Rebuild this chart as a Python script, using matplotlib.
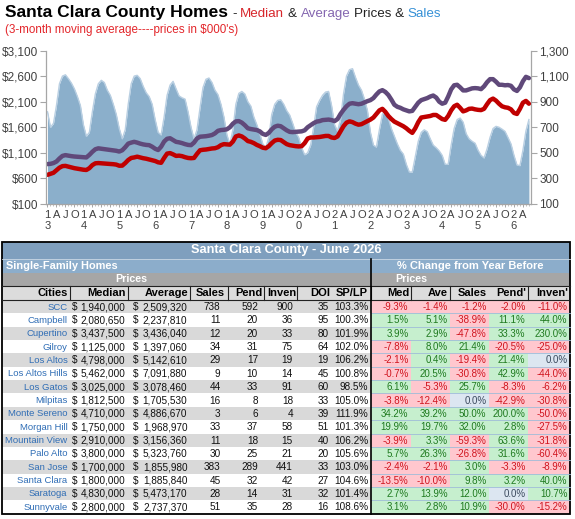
import numpy as np
import matplotlib
matplotlib.use("Agg")
import matplotlib.pyplot as plt
from matplotlib.patches import Rectangle
from matplotlib.ticker import FuncFormatter, MultipleLocator

plt.rcParams['font.family'] = ['Liberation Sans', 'DejaVu Sans']

# ---- chart data: 3-month moving averages, Jan 2013 .. Jun 2026 ----
years = list(range(2013, 2027))

median_k = [
    670, 690, 710, 760, 810, 840, 845, 830, 815, 800, 790, 780,
    770, 765, 800, 860, 895, 900, 895, 890, 885, 882, 878, 870,
    848, 850, 900, 960, 1000, 1010, 1025, 1010, 995, 985, 970, 955,
    940, 915, 905, 1000, 1085, 1095, 1070, 1040, 1045, 1035, 1015, 1000,
    995, 1000, 1080, 1150, 1160, 1165, 1175, 1185, 1190, 1210, 1250, 1270,
    1265, 1260, 1320, 1420, 1440, 1420, 1380, 1330, 1315, 1290, 1255, 1230,
    1200, 1190, 1230, 1290, 1340, 1355, 1350, 1310, 1270, 1250, 1240, 1230,
    1225, 1230, 1290, 1380, 1400, 1400, 1405, 1410, 1420, 1430, 1430, 1400,
    1390, 1420, 1520, 1620, 1690, 1715, 1700, 1670, 1650, 1660, 1690, 1720,
    1750, 1790, 1860, 1930, 1960, 1900, 1820, 1760, 1710, 1680, 1650, 1620,
    1580, 1530, 1490, 1580, 1700, 1790, 1800, 1810, 1820, 1840, 1840, 1800,
    1760, 1745, 1820, 1930, 2010, 2040, 1980, 1910, 1930, 1960, 1965, 1950,
    1940, 1935, 1960, 2050, 2130, 2160, 2120, 2060, 2010, 1990, 1980, 1950,
    1880, 1860, 1960, 2080, 2115, 2060]

average_k = [
    880, 885, 900, 930, 990, 1040, 1055, 1045, 1035, 1028, 1024, 1020,
    1015, 1010, 1060, 1120, 1170, 1188, 1180, 1170, 1165, 1155, 1150, 1140,
    1125, 1150, 1210, 1280, 1300, 1315, 1300, 1280, 1265, 1255, 1250, 1220,
    1180, 1155, 1220, 1320, 1375, 1385, 1350, 1315, 1305, 1290, 1270, 1255,
    1250, 1300, 1380, 1415, 1420, 1425, 1435, 1448, 1480, 1530, 1545, 1550,
    1560, 1600, 1670, 1715, 1720, 1690, 1640, 1580, 1565, 1555, 1545, 1520,
    1470, 1450, 1490, 1560, 1610, 1630, 1620, 1580, 1540, 1510, 1505, 1510,
    1515, 1520, 1540, 1600, 1640, 1680, 1710, 1720, 1740, 1745, 1750, 1740,
    1720, 1760, 1860, 1940, 2010, 2060, 2070, 2060, 2050, 2060, 2085, 2110,
    2130, 2170, 2240, 2300, 2325, 2290, 2230, 2140, 2040, 2000, 1980, 1950,
    1930, 1910, 1920, 2000, 2080, 2130, 2150, 2170, 2200, 2220, 2180, 2100,
    2060, 2080, 2200, 2340, 2420, 2430, 2380, 2320, 2320, 2340, 2360, 2365,
    2360, 2345, 2400, 2480, 2540, 2540, 2490, 2430, 2430, 2420, 2425, 2410,
    2340, 2310, 2380, 2500, 2585, 2560]

sales_3m = [
    821, 700, 730, 870, 1040, 1100, 1110, 1080, 1045, 1000, 940, 870,
    720, 630, 660, 820, 960, 1040, 1067, 1050, 990, 950, 880, 800,
    690, 610, 680, 880, 1040, 1100, 1106, 1080, 1020, 970, 940, 880,
    760, 660, 640, 780, 950, 1030, 1059, 1000, 945, 930, 920, 820,
    700, 610, 680, 850, 1010, 1075, 1085, 1050, 990, 955, 880, 780,
    640, 570, 680, 880, 965, 980, 960, 900, 865, 780, 720, 650,
    570, 540, 620, 800, 880, 910, 915, 880, 830, 795, 730, 660,
    620, 540, 485, 500, 560, 700, 860, 910, 950, 975, 980, 870,
    720, 670, 760, 960, 1100, 1150, 1158, 1090, 1030, 990, 920, 830,
    660, 560, 545, 680, 800, 835, 770, 690, 630, 570, 520, 490,
    410, 350, 350, 470, 590, 660, 680, 665, 610, 560, 540, 515,
    480, 410, 410, 560, 690, 760, 772, 740, 650, 610, 590, 575,
    520, 480, 460, 530, 620, 690, 707, 700, 685, 668, 620, 570,
    480, 405, 400, 520, 670, 760]

# ---- table data ----
cities = ["SCC", "Campbell", "Cupertino", "Gilroy", "Los Altos", "Los Altos Hills",
          "Los Gatos", "Milpitas", "Monte Sereno", "Morgan Hill", "Mountain View",
          "Palo Alto", "San Jose", "Santa Clara", "Saratoga", "Sunnyvale"]
median_price = [1940000, 2080650, 3437500, 1125000, 4798000, 5462000, 3025000, 1812500,
                4710000, 1750000, 2910000, 3800000, 1700000, 1800000, 4830000, 2800000]
average_price = [2509320, 2237810, 3436040, 1397060, 5142610, 7091880, 3078460, 1705530,
                 4886670, 1968970, 3156360, 5323760, 1855980, 1885840, 5473170, 2737370]
sales_ct = [738, 11, 12, 34, 29, 9, 44, 16, 3, 33, 11, 30, 383, 45, 28, 51]
pend_ct = [592, 20, 20, 31, 17, 10, 33, 8, 6, 37, 18, 25, 289, 32, 14, 35]
inven_ct = [900, 36, 33, 75, 19, 14, 91, 18, 4, 58, 15, 21, 441, 42, 31, 28]
doi = [35, 95, 80, 64, 19, 45, 60, 33, 39, 51, 40, 20, 33, 27, 32, 16]
sp_lp = [103.3, 100.3, 101.9, 102.0, 106.2, 100.8, 98.5, 105.0, 111.9, 101.3,
         106.2, 105.6, 103.0, 104.6, 101.4, 108.6]
chg_med = [-9.3, 1.5, 3.9, -7.8, -2.1, -0.7, 6.1, -3.8, 34.2, 19.9, -3.9, 5.7, -2.4, -13.5, 2.7, 3.1]
chg_ave = [-1.4, 5.1, 2.9, 8.0, 0.4, 20.5, -5.3, -12.4, 39.2, 19.7, 3.3, 26.3, -2.1, -10.0, 13.9, 2.8]
chg_sales = [-1.2, -38.9, -47.8, 21.4, -19.4, -30.8, 25.7, 0.0, 50.0, 32.0, -59.3, -26.8, 3.0, 9.8, 12.0, 10.9]
chg_pend = [-2.0, 11.1, 33.3, -20.5, 21.4, 42.9, -8.3, -42.9, 200.0, 2.8, 63.6, 31.6, -3.3, 3.2, 0.0, -30.0]
chg_inven = [-11.0, 44.0, 230.0, -25.0, 0.0, -44.0, -6.2, -30.8, -50.0, -27.5, -31.8, -60.4, -8.9, 40.0, 10.7, -15.2]

left_headers = ["Cities", "Median", "Average", "Sales", "Pend", "Inven", "DOI", "SP/LP"]
right_headers = ["Med", "Ave", "Sales", "Pend'", "Inven'"]

# ---------------------------------------------------------------
W, H = 575, 519
fig = plt.figure(figsize=(W / 100, H / 100), dpi=100)
bg = fig.add_axes([0, 0, 1, 1])
bg.set_xlim(0, W)
bg.set_ylim(H, 0)
bg.axis('off')
renderer = fig.canvas.get_renderer()


def text_w(s, **kw):
    t = bg.text(0, 0, s, **kw)
    w = t.get_window_extent(renderer=renderer).width
    t.remove()
    return w


def colored_line(x0, y, parts, **kw):
    # place coloured pieces one after another on a baseline
    bar = text_w("|", **kw)
    prefix = ""
    for s, c in parts:
        lead = s[:len(s) - len(s.lstrip())]
        off = text_w(prefix + lead + "|", **kw) - bar if (prefix + lead) else 0
        if s.strip():
            bg.text(x0 + off, y, s.strip(), color=c, va='baseline', ha='left', **kw)
        prefix += s


# title
bg.text(5, 17, "Santa Clara County Homes", fontsize=12.5, fontweight='bold',
        color='black', va='baseline', ha='left')
tw = text_w("Santa Clara County Homes", fontsize=12.5, fontweight='bold')
colored_line(5 + tw + 4, 17,
             [("- ", "#222222"), ("Median", "#D7262B"), (" & ", "#222222"),
              ("Average", "#8466B0"), (" Prices & ", "#222222"), ("Sales", "#3590D6")],
             fontsize=9.6)
bg.text(5, 33.5, "(3-month moving average----prices in $000's)", fontsize=8.4,
        color='#E3262B', va='baseline', ha='left')

# ---- chart ----
rect = [46 / W, 1 - 204 / H, 485 / W, 153.5 / H]
ax = fig.add_axes(rect)
ax2 = ax.twinx()
ax.set_zorder(3)
ax2.set_zorder(2)
ax.patch.set_visible(False)

m = np.arange(len(sales_3m))
ax2.fill_between(m, 100, sales_3m, color='#8BAFCB', lw=0)
ax2.plot(m, sales_3m, color='#B9CFE2', lw=1.0)
ax.plot(m, average_k, color='#60497A', lw=3.2, solid_capstyle='round')
ax.plot(m, median_k, color='#C00000', lw=3.2, solid_capstyle='round')

ax.set_xlim(-0.5, 161.7)
ax.set_ylim(100, 3100)
ax2.set_ylim(100, 1300)
ax.set_yticks(np.arange(100, 3101, 500))
ax2.set_yticks(np.arange(100, 1301, 200))
ax.yaxis.set_major_formatter(FuncFormatter(lambda v, p: f"${v:,.0f}"))
ax2.yaxis.set_major_formatter(FuncFormatter(lambda v, p: f"{v:,.0f}"))

qticks = list(range(0, len(m), 3))
qlabels = []
for t in qticks:
    mo = t % 12
    if mo == 0:
        yy = str(years[t // 12])[2:]
        qlabels.append(yy[0] + "\n" + yy[1])
    else:
        qlabels.append({3: "A", 6: "J", 9: "O"}[mo])
ax.set_xticks(qticks)
ax.set_xticklabels(qlabels, linespacing=1.15)
ax.xaxis.set_minor_locator(MultipleLocator(1))

axis_grey = '#A6A6A6'
for a in (ax, ax2):
    for s in a.spines.values():
        s.set_visible(False)
ax.spines['left'].set_visible(True)
ax.spines['bottom'].set_visible(True)
ax2.spines['right'].set_visible(True)
for s in (ax.spines['left'], ax.spines['bottom'], ax2.spines['right']):
    s.set_color(axis_grey)
    s.set_linewidth(0.9)

ax.tick_params(axis='y', length=4, width=0.8, color=axis_grey, labelsize=8.5,
               labelcolor='#404040', pad=1.5)
ax2.tick_params(axis='y', length=4, width=0.8, color=axis_grey, labelsize=8.5,
                labelcolor='#404040', pad=2)
ax.tick_params(axis='x', which='major', length=2.5, width=0.7, color=axis_grey,
               labelsize=8, labelcolor='#404040', pad=1.5)
ax.tick_params(axis='x', which='minor', length=1.5, width=0.5, color=axis_grey)

# ---- table ----
T_L, T_R, T_TOP = 2, 570, 242
SPLIT = 371
row_top, row_h = 300.0, 13.35
T_BOT = row_top + row_h * len(cities)

blue1, blue2, grey_mid, grey_lt = '#7F9FBE', '#8CADCB', '#A6A6A6', '#D9D9D9'
bg.add_patch(Rectangle((T_L, T_TOP), T_R - T_L, 16.5, color=blue1, lw=0))
bg.add_patch(Rectangle((T_L, 258.5), T_R - T_L, 14.5, color=blue2, lw=0))
bg.add_patch(Rectangle((T_L, 273), T_R - T_L, 13, color=grey_mid, lw=0))
bg.add_patch(Rectangle((T_L, 286), T_R - T_L, 14, color='#DCDCDC', lw=0))
bg.plot([T_L, T_R], [258.5, 258.5], color='#C9D6E3', lw=0.6)

bg.text(286, 250.5, "Santa Clara County - June 2026", fontsize=9.2, fontweight='bold',
        color='white', ha='center', va='center')
bg.text(6, 266, "Single-Family Homes", fontsize=7.9, fontweight='bold',
        color='white', ha='left', va='center')
bg.text(470, 266, "% Change from Year Before", fontsize=8, fontweight='bold',
        color='white', ha='center', va='center')
bg.text(131, 279.5, "Prices", fontsize=7.7, fontweight='bold', color='white',
        ha='center', va='center')
bg.text(411, 279.5, "Prices", fontsize=7.7, fontweight='bold', color='white',
        ha='center', va='center')

# header row
left_hdr_right = [67.5, 125.5, 188, 225, 262, 296, 330, 368]
right_bounds = [SPLIT, 411, 450, 489, 528, T_R]
for h, xr in zip(left_headers, left_hdr_right):
    bg.text(xr, 293.3, h, fontsize=8, fontweight='bold', color='black',
            ha='right', va='center')
for j, h in enumerate(right_headers):
    bg.text(right_bounds[j + 1] - 2, 293.3, h, fontsize=8, fontweight='bold',
            color='black', ha='right', va='center')
for xs in [69.5, 128, 190, 228, 264, 297, SPLIT, 411, 450, 528]:
    bg.plot([xs, xs], [286, 300], color='#222222', lw=0.8)
bg.plot([T_L, T_R], [286, 286], color='#222222', lw=0.8)
bg.plot([T_L, T_R], [300, 300], color='#222222', lw=0.8)

pos_fill, neg_fill, zero_fill = '#C6EFCE', '#FFC7CE', '#DCE6F1'
pos_txt, neg_txt, zero_txt = '#1F7A1F', '#D0141E', '#3B4A5E'
changes = [chg_med, chg_ave, chg_sales, chg_pend, chg_inven]
num_kw = dict(fontsize=7.2, color='#111111', va='center')
for i, city in enumerate(cities):
    y0 = row_top + i * row_h
    yc = y0 + row_h / 2 + 0.4
    if i % 2 == 0:
        bg.add_patch(Rectangle((T_L, y0), SPLIT - T_L, row_h, color=grey_lt, lw=0))
    bg.text(67.5, yc, city, fontsize=6.8, color='#2F6DB5', ha='right', va='center')
    bg.text(72, yc, "$", ha='left', **num_kw)
    bg.text(125.5, yc, f"{median_price[i]:,}", ha='right', **num_kw)
    bg.text(133, yc, "$", ha='left', **num_kw)
    bg.text(187.5, yc, f"{average_price[i]:,}", ha='right', **num_kw)
    bg.text(220.5, yc, f"{sales_ct[i]}", ha='right', **num_kw)
    bg.text(258, yc, f"{pend_ct[i]}", ha='right', **num_kw)
    bg.text(293, yc, f"{inven_ct[i]}", ha='right', **num_kw)
    bg.text(329, yc, f"{doi[i]}", ha='right', **num_kw)
    bg.text(368.5, yc, f"{sp_lp[i]:.1f}%", ha='right', **num_kw)
    for j, col in enumerate(changes):
        v = col[i]
        if v > 0:
            fc, tc = pos_fill, pos_txt
        elif v < 0:
            fc, tc = neg_fill, neg_txt
        else:
            fc, tc = zero_fill, zero_txt
        x0, x1 = right_bounds[j], right_bounds[j + 1]
        bg.add_patch(Rectangle((x0, y0), x1 - x0, row_h, color=fc, lw=0))
        bg.text(x1 - 2.5, yc, f"{v:.1f}%", fontsize=7, color=tc, ha='right', va='center')
    if i > 0:
        bg.plot([SPLIT, T_R], [y0, y0], color='#9FBCD8', lw=0.6)

bg.plot([SPLIT, SPLIT], [258.5, T_BOT], color='black', lw=1.2)
bg.add_patch(Rectangle((T_L, T_TOP), T_R - T_L, T_BOT - T_TOP, fill=False,
                       edgecolor='black', lw=1.3))

fig.savefig('out.png', dpi=100)
